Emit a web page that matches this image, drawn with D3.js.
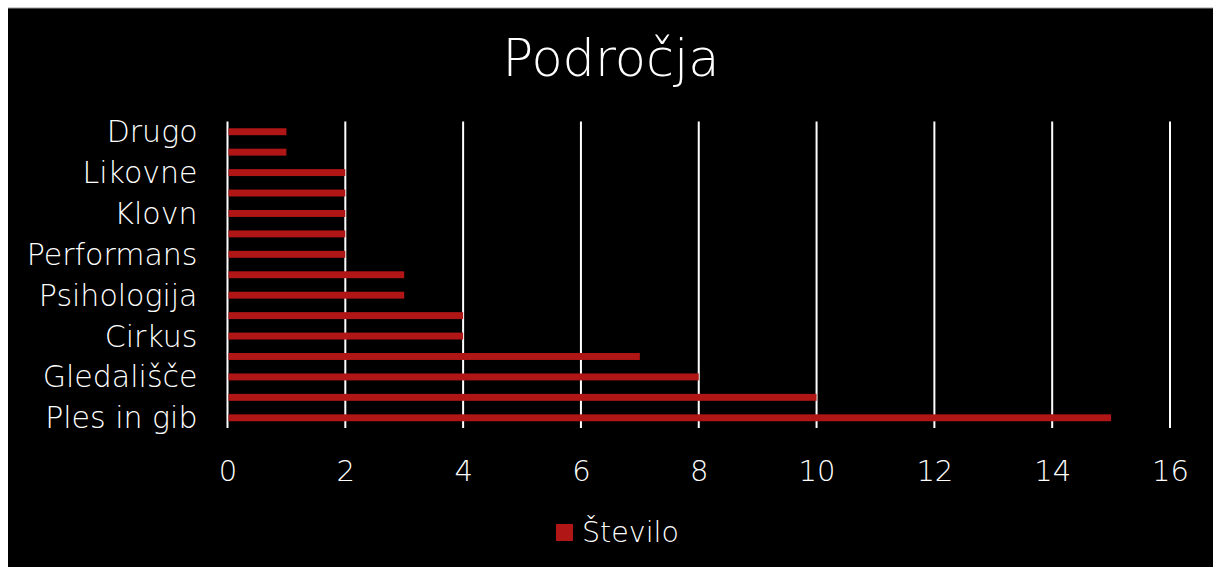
<!DOCTYPE html>
<html>
<head>
<meta charset="utf-8">
<script src="https://cdn.jsdelivr.net/npm/d3@7"></script>
<style>
  html, body { margin: 0; padding: 0; background: #fff; }
  svg { display: block; }
  text { font-family: "DejaVu Sans", sans-serif; fill: #fff; }
</style>
</head>
<body>
<div id="chart"></div>
<script>
// categories, bottom to top as in the sheet (only every other label is shown)
var categories = ["Ples in gib", "Glasba", "Gledališče", "Film", "Cirkus ", "Lutke",
  "Psihologija", "Pedagogika", "Performans", "Literatura", "Klovn", "Improvizacija",
  "Likovne", "Fotografija", "Drugo"];
var values = [15, 10, 8, 7, 4, 4, 3, 3, 2, 2, 2, 2, 2, 1, 1];
var xTicks = [0, 2, 4, 6, 8, 10, 12, 14, 16];
var shownLabels = ["Ples in gib", "Gledališče", "Cirkus ", "Psihologija", "Performans", "Klovn", "Likovne", "Drugo"];
var seriesName = "Število";
var title = "Področja";

var W = 1213, H = 567;
var svg = d3.select("#chart").append("svg").attr("width", W).attr("height", H);

// chart frame, runs off the right and bottom edges
svg.append("rect").attr("x", 8).attr("y", 8).attr("width", W - 8).attr("height", H - 8)
  .attr("fill", "#000");
svg.append("line").attr("x1", 8).attr("x2", W).attr("y1", 8).attr("y2", 8)
  .attr("stroke", "#9a9a9a").attr("stroke-width", 1);

var x = d3.scaleLinear().domain([0, 16]).range([227.5, 1170]);
var y = d3.scaleBand().domain(categories.slice().reverse()).range([121.5, 428]).paddingInner(0.66).paddingOuter(0.33);

// gridlines
svg.append("g").selectAll("line")
  .data(xTicks)
  .enter().append("line")
  .attr("x1", function(d) { return x(d); })
  .attr("x2", function(d) { return x(d); })
  .attr("y1", 121.5).attr("y2", 428)
  .attr("stroke", "#fff").attr("stroke-width", 2);

// bars
svg.append("g").selectAll("rect")
  .data(values)
  .enter().append("rect")
  .attr("x", x(0) + 1)
  .attr("y", function(d, i) { return y(categories[i]); })
  .attr("width", function(d) { return x(d) - x(0) - 1; })
  .attr("height", y.bandwidth())
  .attr("fill", "#b01616");

// x axis labels
var xAxis = svg.append("g").attr("transform", "translate(0,481)")
  .call(d3.axisBottom(x).tickValues(xTicks).tickSize(0).tickPadding(0));
xAxis.select(".domain").remove();
xAxis.selectAll("text").attr("dy", 0).attr("font-size", 29).attr("fill", "#fff")
  .style("font-family", "DejaVu Sans").style("font-weight", 200);

// y axis labels
var yAxis = svg.append("g").attr("transform", "translate(227.5,0)")
  .call(d3.axisLeft(y).tickValues(shownLabels).tickSize(0).tickPadding(30));
yAxis.select(".domain").remove();
yAxis.selectAll("text").attr("dy", "0.35em").attr("font-size", 30).attr("fill", "#fff")
  .style("font-family", "DejaVu Sans").style("font-weight", 200);

// title
svg.append("text").attr("x", 611).attr("y", 76).attr("text-anchor", "middle")
  .attr("font-size", 51).style("font-weight", 200).text(title);

// legend
var legend = svg.append("g");
legend.append("rect").attr("x", 556).attr("y", 524).attr("width", 17).attr("height", 17).attr("fill", "#b01616");
legend.append("text").attr("x", 582).attr("y", 542).attr("font-size", 28.5).style("font-weight", 200).text(seriesName);
</script>
</body>
</html>
